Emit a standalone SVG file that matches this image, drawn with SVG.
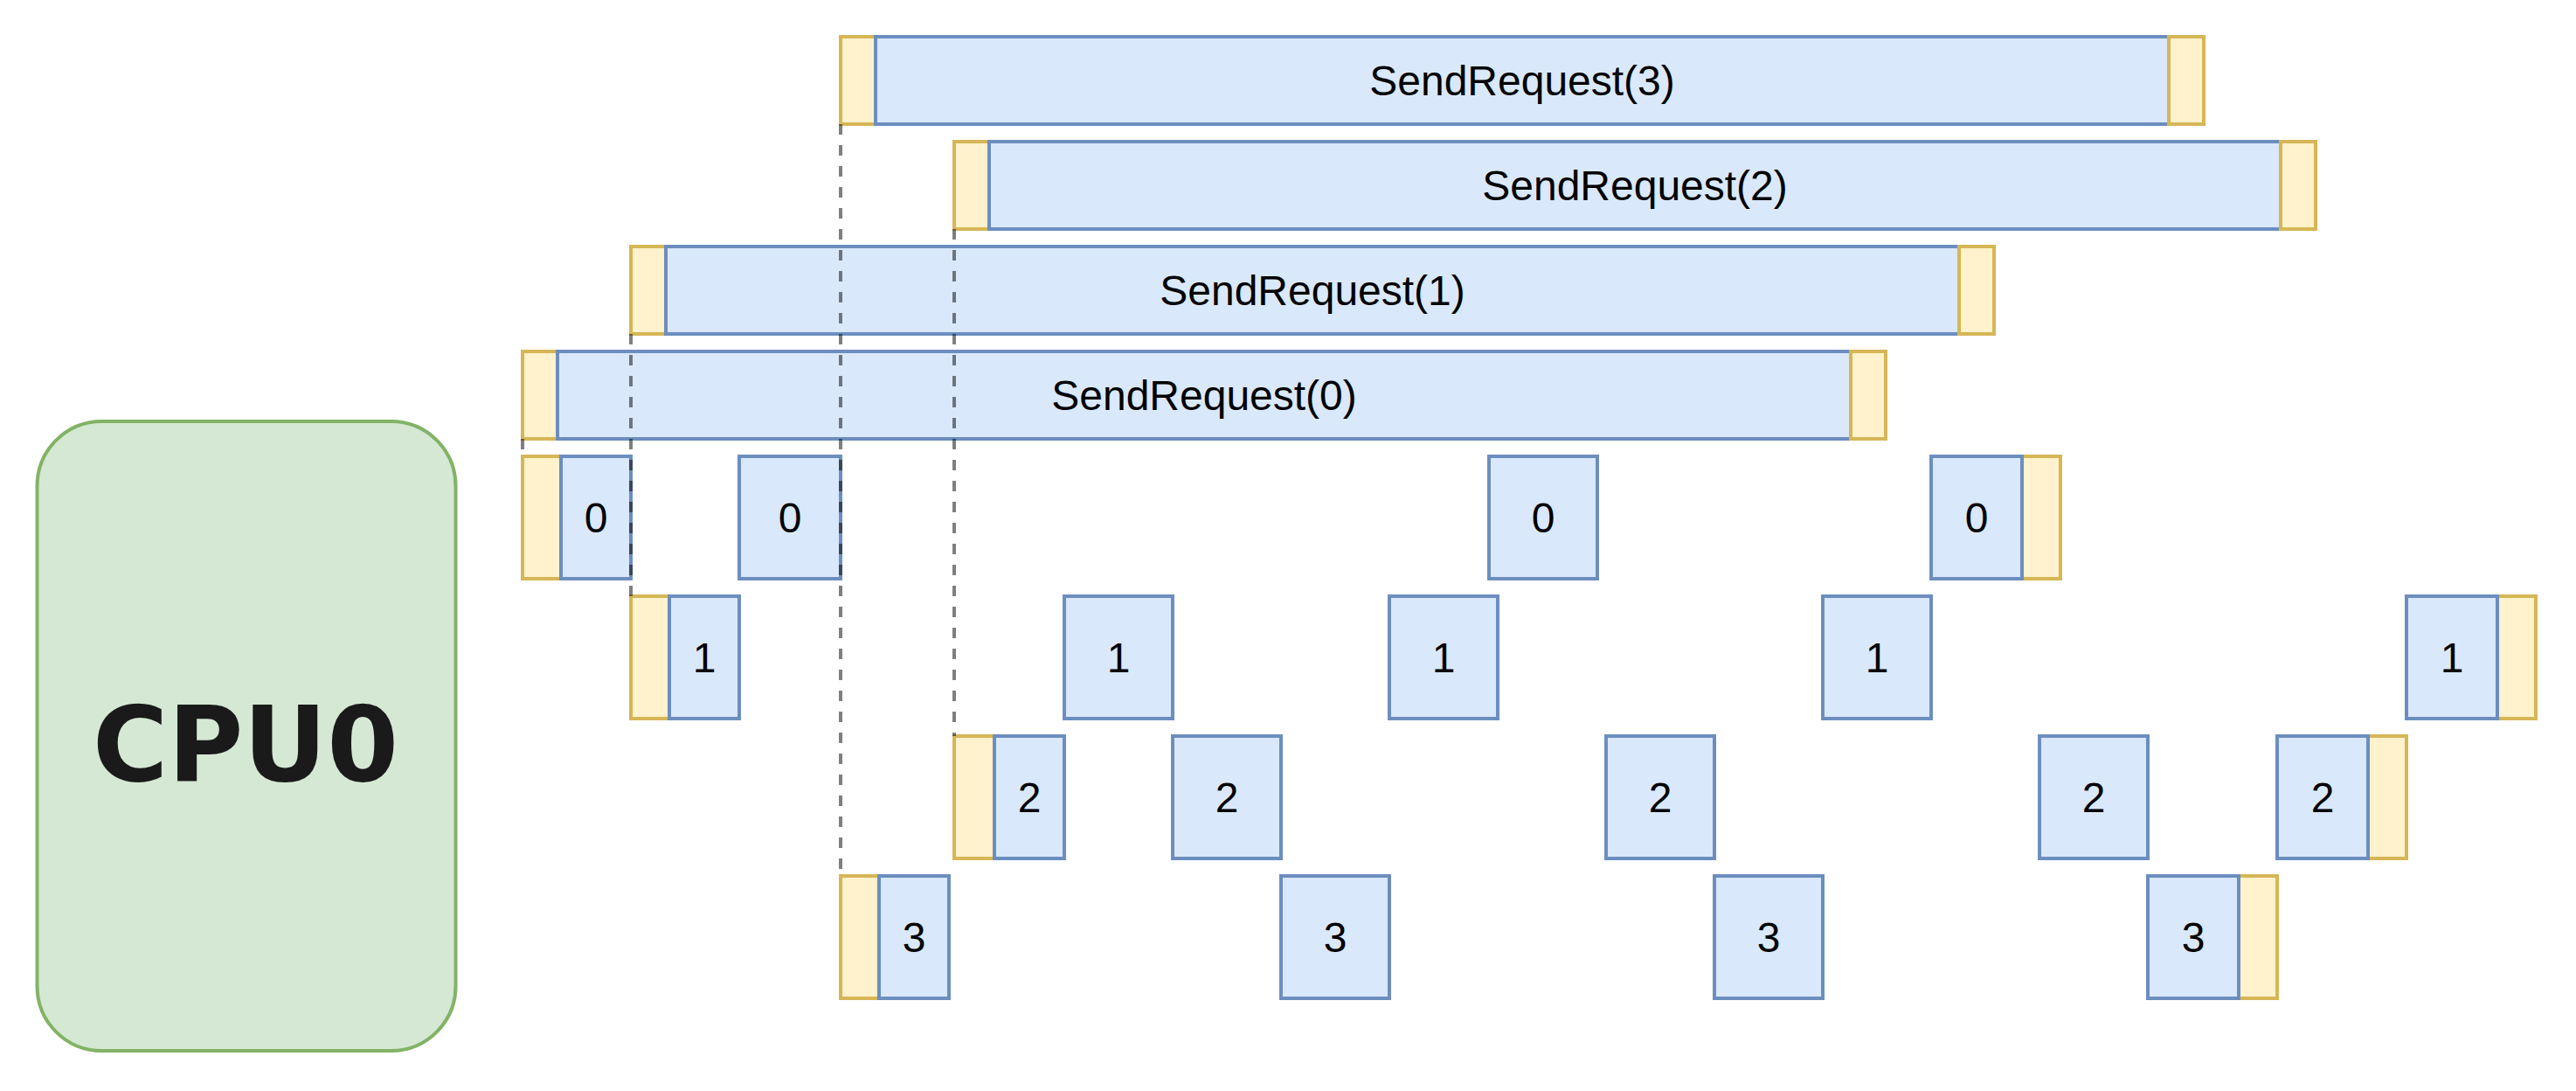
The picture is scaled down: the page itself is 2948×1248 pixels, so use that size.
<svg xmlns="http://www.w3.org/2000/svg" width="2948" height="1248" viewBox="0 0 2948 1248">
<style>
.b{fill:#dae8fc;stroke:#6c8ebf;stroke-width:4}
.y{fill:#fff2cc;stroke:#d6b656;stroke-width:4}
.t{font-family:"Liberation Sans",Arial,sans-serif;font-size:48px;text-anchor:middle;fill:#000}
.d{fill:none;stroke:#000;stroke-opacity:0.5;stroke-width:4;stroke-dasharray:12 12}
</style>
<rect width="2948" height="1248" fill="#ffffff"/>
<g id="cpu0">
<rect x="42.5" y="482" width="479" height="720" rx="74" ry="74" fill="#d5e8d4" stroke="#82b366" stroke-width="4"/>
<text x="281" y="893" font-family="'DejaVu Sans',sans-serif" font-weight="bold" font-size="119" fill="#1a1a1a" text-anchor="middle" textLength="350" lengthAdjust="spacingAndGlyphs">CPU0</text>
</g>
<g id="send3">
<rect class="y" x="962" y="42" width="40" height="100"/>
<rect class="b" x="1002" y="42" width="1480" height="100"/>
<rect class="y" x="2482" y="42" width="40" height="100"/>
<text class="t" x="1742" y="109">SendRequest(3)</text>
</g>
<g id="send2">
<rect class="y" x="1092" y="162" width="40" height="100"/>
<rect class="b" x="1132" y="162" width="1478" height="100"/>
<rect class="y" x="2610" y="162" width="40" height="100"/>
<text class="t" x="1871" y="229">SendRequest(2)</text>
</g>
<g id="send1">
<rect class="y" x="722" y="282" width="40" height="100"/>
<rect class="b" x="762" y="282" width="1480" height="100"/>
<rect class="y" x="2242" y="282" width="40" height="100"/>
<text class="t" x="1502" y="349">SendRequest(1)</text>
</g>
<g id="send0">
<rect class="y" x="598" y="402" width="40" height="100"/>
<rect class="b" x="638" y="402" width="1480" height="100"/>
<rect class="y" x="2118" y="402" width="40" height="100"/>
<text class="t" x="1378" y="469">SendRequest(0)</text>
</g>
<g id="row0">
<g id="r0a"><rect class="y" x="598" y="522" width="44" height="140"/><rect class="b" x="642" y="522" width="80" height="140"/><text class="t" x="682" y="609">0</text></g>
<g id="r0b"><rect class="b" x="846" y="522" width="116" height="140"/><text class="t" x="904" y="609">0</text></g>
<g id="r0c"><rect class="b" x="1704" y="522" width="124" height="140"/><text class="t" x="1766" y="609">0</text></g>
<g id="r0d"><rect class="y" x="2314" y="522" width="44" height="140"/><rect class="b" x="2210" y="522" width="104" height="140"/><text class="t" x="2262" y="609">0</text></g>
</g>
<g id="row1">
<g id="r1a"><rect class="y" x="722" y="682" width="44" height="140"/><rect class="b" x="766" y="682" width="80" height="140"/><text class="t" x="806" y="769">1</text></g>
<g id="r1b"><rect class="b" x="1218" y="682" width="124" height="140"/><text class="t" x="1280" y="769">1</text></g>
<g id="r1c"><rect class="b" x="1590" y="682" width="124" height="140"/><text class="t" x="1652" y="769">1</text></g>
<g id="r1d"><rect class="b" x="2086" y="682" width="124" height="140"/><text class="t" x="2148" y="769">1</text></g>
<g id="r1e"><rect class="y" x="2858" y="682" width="44" height="140"/><rect class="b" x="2754" y="682" width="104" height="140"/><text class="t" x="2806" y="769">1</text></g>
</g>
<g id="row2">
<g id="r2a"><rect class="y" x="1092" y="842" width="46" height="140"/><rect class="b" x="1138" y="842" width="80" height="140"/><text class="t" x="1178" y="929">2</text></g>
<g id="r2b"><rect class="b" x="1342" y="842" width="124" height="140"/><text class="t" x="1404" y="929">2</text></g>
<g id="r2c"><rect class="b" x="1838" y="842" width="124" height="140"/><text class="t" x="1900" y="929">2</text></g>
<g id="r2d"><rect class="b" x="2334" y="842" width="124" height="140"/><text class="t" x="2396" y="929">2</text></g>
<g id="r2e"><rect class="y" x="2710" y="842" width="44" height="140"/><rect class="b" x="2606" y="842" width="104" height="140"/><text class="t" x="2658" y="929">2</text></g>
</g>
<g id="row3">
<g id="r3a"><rect class="y" x="962" y="1002" width="44" height="140"/><rect class="b" x="1006" y="1002" width="80" height="140"/><text class="t" x="1046" y="1089">3</text></g>
<g id="r3b"><rect class="b" x="1466" y="1002" width="124" height="140"/><text class="t" x="1528" y="1089">3</text></g>
<g id="r3c"><rect class="b" x="1962" y="1002" width="124" height="140"/><text class="t" x="2024" y="1089">3</text></g>
<g id="r3d"><rect class="y" x="2562" y="1002" width="44" height="140"/><rect class="b" x="2458" y="1002" width="104" height="140"/><text class="t" x="2510" y="1089">3</text></g>
</g>
<g id="connectors">
<line class="d" x1="598" y1="502" x2="598" y2="522"/>
<line class="d" x1="722" y1="382" x2="722" y2="682"/>
<line class="d" x1="962" y1="142" x2="962" y2="1002"/>
<line class="d" x1="1092" y1="262" x2="1092" y2="842"/>
</g>
</svg>
